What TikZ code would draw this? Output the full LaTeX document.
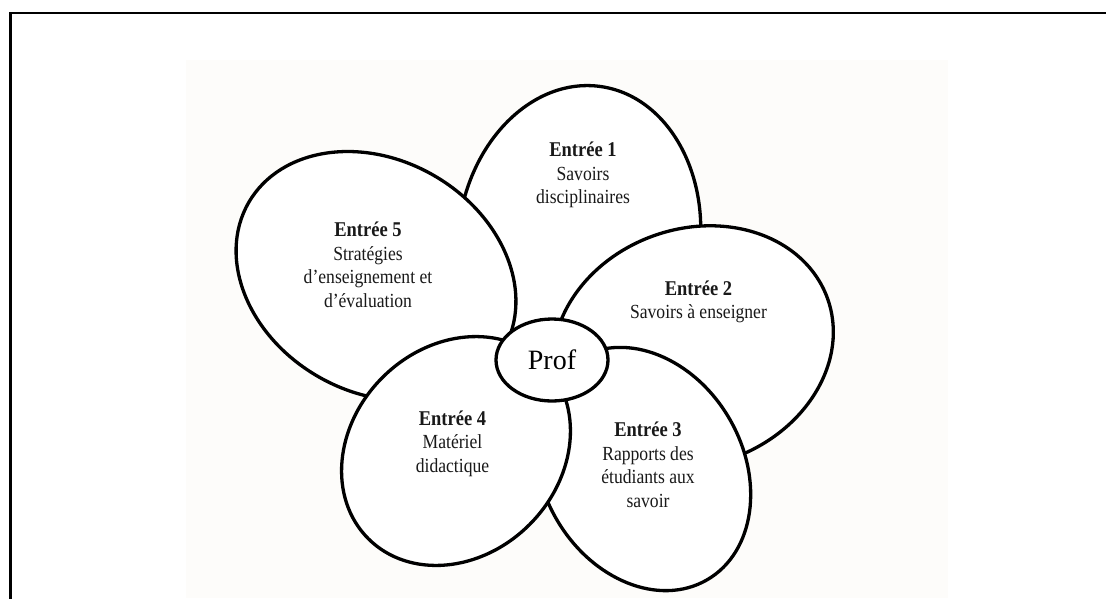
\documentclass[tikz,border=0pt]{standalone}
\usepackage{fontspec}
\setmainfont{Liberation Serif}[FakeStretch=0.88]
\newfontfamily\proffont{Liberation Serif}
\usetikzlibrary{shapes.geometric}
\definecolor{bgtint}{RGB}{253,252,250}
\newcommand\petalbody{\fontsize{20}{23.6}\selectfont}
\newcommand\petaltitle{\fontsize{21}{23.6}\selectfont\bfseries}
\begin{document}
\begin{tikzpicture}[x=1pt,y=1pt,
  petal/.style={ellipse, draw=black, line width=3.3pt, fill=white, inner sep=0pt},
  lbl/.style={anchor=base, inner sep=0pt, font=\petalbody, text=black!90},
  framestyle/.style={line width=2.2pt, line cap=rect}]
\useasboundingbox (0,0) rectangle (1106,-598);
\fill[bgtint] (186,-60) rectangle (948,-598);
% frame
\coordinate (fb) at (10.5,-602);
\coordinate (fc) at (10.5,-13);
\coordinate (fr) at (1110,-13);
\draw[framestyle] (fb) -- (fc) -- (fr);
% petals (drawing order gives the overlaps)
\node[petal, minimum width=242pt, minimum height=310pt, rotate=-8] (p1) at (579,-240) {};
\node[petal, minimum width=286pt, minimum height=236pt, rotate=20] (p2) at (693,-347) {};
\node[petal, minimum width=200pt, minimum height=256pt, rotate=30] (p3) at (643,-469) {};
\node[petal, minimum width=294pt, minimum height=232pt, rotate=-30] (p5) at (376,-276) {};
\node[petal, minimum width=248pt, minimum height=208pt, rotate=45] (p4) at (456,-451) {};
\node[petal, minimum width=112pt, minimum height=82pt, font=\proffont\fontsize{28}{30}\selectfont] (prof) at (552,-360) {Prof};
% labels
\node[lbl] (l1) at (583,-156.7) {\begin{tabular}[t]{@{}c@{}}{\petaltitle Entrée 1}\\ Savoirs\\ disciplinaires\end{tabular}};
\node[lbl] (l2) at (698.5,-295) {\begin{tabular}[t]{@{}c@{}}{\petaltitle Entrée 2}\\ Savoirs à enseigner\end{tabular}};
\node[lbl] (l3) at (648,-436.7) {\begin{tabular}[t]{@{}c@{}}{\petaltitle Entrée 3}\\ Rapports des\\ étudiants aux\\ savoir\end{tabular}};
\node[lbl] (l4) at (452.5,-425) {\begin{tabular}[t]{@{}c@{}}{\petaltitle Entrée 4}\\ Matériel\\ didactique\end{tabular}};
\node[lbl] (l5) at (368,-236.7) {\begin{tabular}[t]{@{}c@{}}{\petaltitle Entrée 5}\\ Stratégies\\ d’enseignement et\\ d’évaluation\end{tabular}};
\end{tikzpicture}
\end{document}
